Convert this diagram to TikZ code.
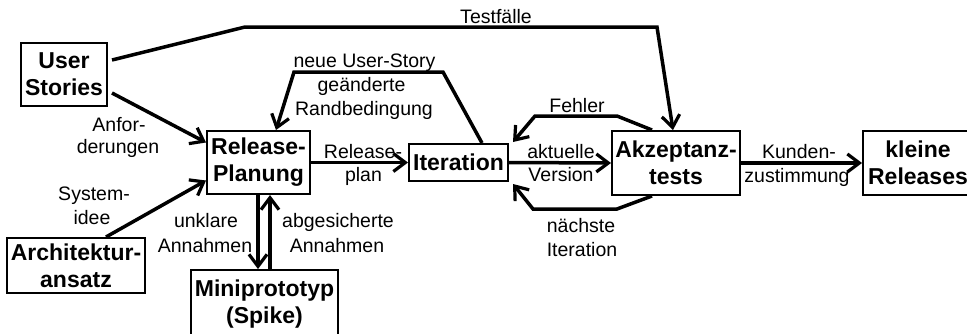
\documentclass[tikz,border=0pt]{standalone}
\usepackage{fontspec}
\setmainfont{Liberation Sans}
\usetikzlibrary{arrows.meta,calc}
\begin{document}
\begin{tikzpicture}[x=1pt,y=-1pt,
  box/.style={draw,line width=2pt,inner sep=0pt,align=center,font=\fontsize{23}{27}\selectfont\bfseries},
  conn/.style={line width=3.5pt,line join=miter,-{Straight Barb[length=12pt,width=18pt,line width=3.2pt]}},
  lbl/.style={font=\fontsize{19.5}{24}\selectfont,inner sep=0pt,anchor=base}]
\useasboundingbox (0,0) rectangle (967,333);
\clip (0,0) rectangle (967,333);
% boxes
\node[box,minimum width=86pt,minimum height=63pt] (US) at (64,74.5) {User\\Stories};
\node[box,minimum width=103pt,minimum height=63pt] (RP) at (258.5,162.5) {Release-\\Planung};
\node[box,minimum width=138pt,minimum height=55pt] (AR) at (76,265.5) {Architektur-\\ansatz};
\node[box,minimum width=147pt,minimum height=68pt] (MP) at (264.5,304) {Miniprototyp\\(Spike)};
\node[box,minimum width=99pt,minimum height=37pt] (IT) at (458.5,162.5) {Iteration};
\node[box,minimum width=128pt,minimum height=64pt] (AK) at (676,163) {Akzeptanz-\\tests};
\node[box,minimum width=110pt,minimum height=64pt] (KR) at (918,163) {kleine\\Releases};
% waypoints
\coordinate (T1) at (245,27);
\coordinate (T2) at (657,27);
\coordinate (N1) at (443,72);
\coordinate (N2) at (294,72);
\coordinate (F1) at (617,116);
\coordinate (F2) at (535,116);
\coordinate (V1) at (617,209);
\coordinate (V2) at (533,209);
% connectors
\draw[conn] ($(US.east)+(4,18.5)$) -- ($(RP.west)+(0,-20)$);
\draw[conn] ($(AR.north)+(30,0)$) -- ($(RP.west)+(0,18)$);
\draw[conn] (RP.east) -- (IT.west);
\draw[conn] (IT.east) -- (AK.west);
\draw[conn] (AK.east) -- (KR.west);
\draw[conn] ($(RP.south)+(-0.5,0)$) -- ($(MP.north)+(-6.5,0)$);
\draw[conn] ($(MP.north)+(5.5,0)$) -- ($(RP.south)+(11.5,0)$);
\draw[conn] ($(US.east)+(4,-14.5)$) -- (T1) -- (T2) -- ($(AK.north)+(-3,0)$);
\draw[conn] ($(IT.north)+(23.5,0)$) -- (N1) -- (N2) -- ($(RP.north)+(17.5,0)$);
\draw[conn] ($(AK.north)+(-24,0)$) -- (F1) -- (F2) -- ($(IT.north east)+(4,-1)$);
\draw[conn] ($(AK.south)+(-24,0)$) -- (V1) -- (V2) -- ($(IT.south east)+(4,2)$);
% labels
\node[lbl] (lT) at (496,23) {Testfälle};
\node[lbl] (lN1) at (364.5,67) {neue User-Story};
\node[lbl] (lN2) at (361.5,91) {geänderte};
\node[lbl] (lN3) at (364,115) {Randbedingung};
\node[lbl] (lF) at (577,112) {Fehler};
\node[lbl] (lR1) at (363,158) {Release-};
\node[lbl] (lR2) at (363.5,181) {plan};
\node[lbl] (lA1) at (561,158) {aktuelle};
\node[lbl] (lA2) at (561,181) {Version};
\node[lbl] (lI1) at (581,232) {nächste};
\node[lbl] (lI2) at (582,256) {Iteration};
\node[lbl] (lK1) at (799,158) {Kunden-};
\node[lbl] (lK2) at (797,182) {zustimmung};
\node[lbl] (lAn1) at (119,131) {Anfor-};
\node[lbl] (lAn2) at (118,153) {derungen};
\node[lbl] (lS1) at (94,200) {System-};
\node[lbl] (lS2) at (92,224) {idee};
\node[lbl] (lU1) at (206,227) {unklare};
\node[lbl] (lU2) at (205,252) {Annahmen};
\node[lbl] (lG1) at (338,227) {abgesicherte};
\node[lbl] (lG2) at (337,252) {Annahmen};
\end{tikzpicture}
\end{document}
